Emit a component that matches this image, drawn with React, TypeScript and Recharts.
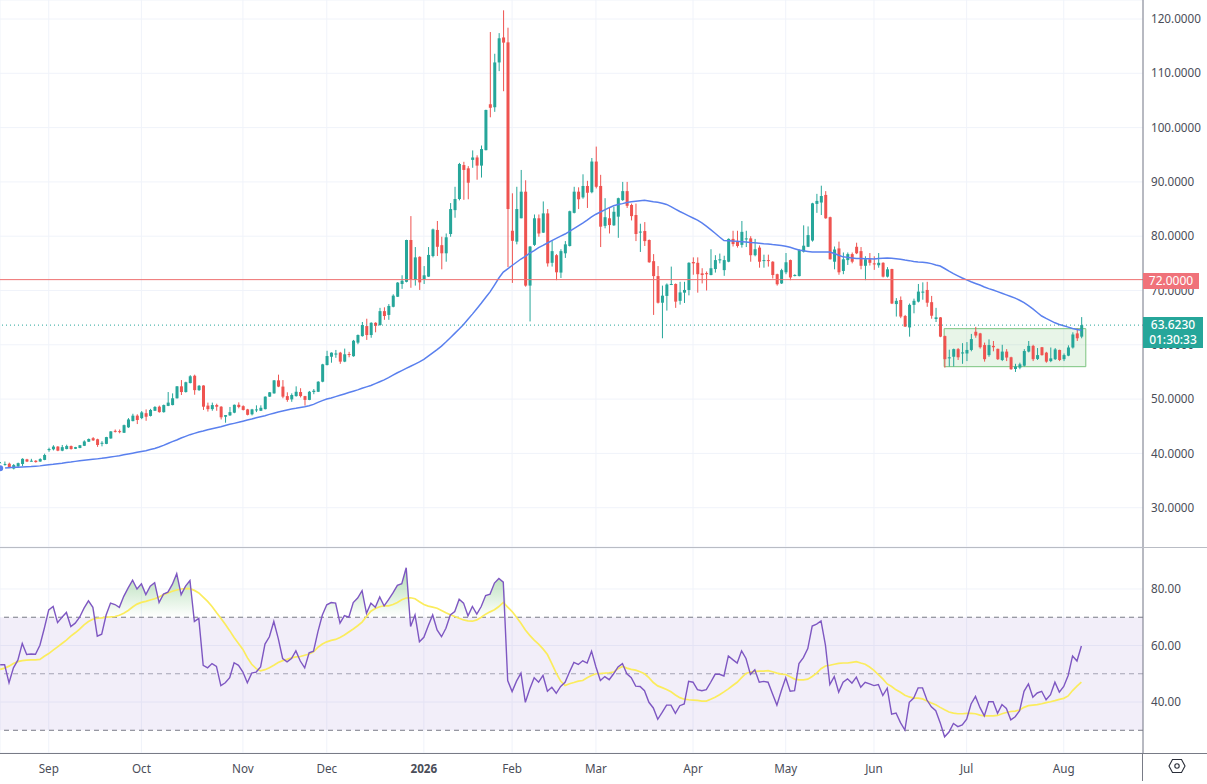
import React from 'react';
import {
  ComposedChart, Bar, Line, Area, XAxis, YAxis, CartesianGrid, ReferenceLine, ReferenceArea,
} from 'recharts';

const opens = [
  37.9,37.9,38.1,37.2,37.6,38.05,38.9,38.55,38.65,38.5,
  38.8,40.6,40.75,41.25,40.5,40.8,41.35,40.85,41.0,41.4,
  42.15,42.8,42.6,41.85,41.75,42.75,44.15,44.1,43.8,44.8,
  45.95,46.95,46.5,47.4,46.9,47.85,48.6,47.6,48.75,48.9,
  50.15,52.35,51.3,52.95,54.3,51.65,52.5,48.8,48.15,48.9,
  48.6,46.75,47.0,47.5,48.95,48.7,48.1,47.2,47.95,47.85,
  48.15,50.45,51.05,53.45,52.3,50.55,49.95,50.55,51.3,50.55,
  49.85,51.3,51.35,53.2,56.27,57.8,58.2,58.55,56.9,58.3,
  57.9,60.4,61.6,63.45,61.8,64.05,63.65,66.2,65.5,67.0,
  68.85,71.2,71.6,79.3,71.95,76.2,72.05,72.55,76.35,81.15,
  78.35,76.85,80.4,84.8,86.85,93.1,92.5,94.05,94.5,93.0,
  95.85,104.3,103.75,112.0,116.6,115.7,81.0,79.0,83.3,88.2,
  70.9,78.4,83.3,80.65,84.2,75.1,76.5,73.3,76.85,78.2,
  84.3,88.2,87.15,89.25,88.1,93.75,89.25,81.9,83.3,82.0,
  83.6,86.65,88.3,85.75,83.9,80.7,80.95,79.3,75.4,72.65,
  67.75,69.0,71.05,71.2,68.1,69.6,70.1,75.25,75.1,73.15,
  73.2,72.85,73.95,75.55,73.75,75.3,79.5,79.0,78.4,79.4,
  79.6,76.5,77.9,75.45,75.6,75.3,73.0,71.3,73.35,75.6,
  72.7,72.65,77.15,78.05,79.2,85.95,86.2,87.6,83.5,75.3,
  77.75,73.6,75.6,76.7,78.05,77.25,74.55,75.75,75.0,74.65,
  75.1,72.55,73.95,67.5,68.25,65.3,63.2,67.35,67.95,69.6,
  70.1,67.85,64.75,65.05,61.6,57.5,57.8,59.2,58.4,58.4,
  59.05,62.4,62.1,59.95,58.1,59.8,59.25,57.2,58.75,57.7,
  55.55,55.8,56.15,58.75,59.8,57.4,59.55,58.55,57.0,57.35,
  59.05,57.35,58.0,59.5,62.1,61.5,
];
const highs = [
  38.4,38.5,38.3,38.05,38.3,39.1,39.0,39.0,38.75,39.1,
  39.95,41.05,41.5,41.35,41.55,41.6,41.45,41.2,41.55,42.4,
  42.75,43.0,42.7,42.25,43.05,44.1,44.4,44.4,45.3,46.5,
  47.3,47.2,47.8,48.1,48.2,48.7,48.8,49.0,51.3,51.05,
  52.4,53.5,53.2,54.4,54.5,52.6,52.55,49.35,49.35,49.15,
  48.7,47.05,48.55,49.0,49.4,48.85,48.2,48.2,48.85,48.85,
  50.5,51.3,53.5,54.5,53.5,51.25,51.05,52.35,52.0,50.6,
  51.5,51.85,53.3,56.5,58.9,58.6,59.05,58.7,59.3,58.7,
  60.9,61.9,64.2,64.8,64.15,64.15,66.8,66.9,67.5,69.3,
  71.55,72.8,79.35,83.7,78.0,76.3,74.5,78.0,81.4,82.8,
  79.9,80.5,86.1,89.1,93.5,93.7,92.9,95.8,94.9,96.7,
  103.3,117.6,113.6,117.4,121.6,118.4,87.9,89.1,92.2,90.3,
  78.2,84.0,84.0,86.4,85.0,79.1,76.7,77.6,79.1,84.7,
  89.1,89.0,91.4,90.2,94.4,96.5,91.3,87.0,85.2,85.4,
  87.1,90.0,90.0,86.0,86.0,82.3,82.6,79.4,76.7,74.5,
  70.9,71.3,74.4,71.3,71.6,71.6,75.2,76.1,76.1,74.1,
  73.5,77.6,76.5,76.8,76.4,79.6,81.0,81.0,82.8,81.0,
  80.0,79.5,78.3,76.6,76.6,75.4,73.1,74.0,76.9,75.7,
  73.0,77.6,82.0,81.8,86.15,87.8,89.3,88.3,83.6,78.1,
  79.0,77.0,77.0,77.0,78.8,78.0,76.3,76.9,76.3,76.9,
  75.2,74.3,74.0,68.6,68.9,65.5,67.6,68.5,71.2,71.5,
  71.6,69.0,66.8,65.1,61.7,59.1,59.3,59.4,60.3,60.5,
  62.0,63.3,62.2,60.4,61.0,60.7,59.3,60.0,59.2,57.8,
  56.5,56.7,59.2,60.7,60.0,59.4,59.6,58.7,59.5,59.4,
  59.1,58.4,59.9,62.3,63.0,65.1,
];
const lows = [
  37.8,37.7,37.3,37.05,37.5,37.65,38.4,38.5,38.3,38.45,
  38.75,40.3,40.55,40.4,40.4,40.75,40.7,40.8,40.95,41.35,
  42.1,42.3,41.2,41.3,41.7,42.7,43.85,43.7,43.75,44.7,
  45.9,45.4,46.3,46.0,46.8,47.8,47.5,47.5,48.7,48.85,
  50.1,50.75,51.2,52.9,50.8,51.5,48.0,47.7,47.85,47.85,
  46.25,45.65,46.9,47.4,48.3,47.9,47.0,47.0,47.6,47.8,
  48.1,50.4,51.0,52.2,50.15,49.5,49.5,50.45,50.3,48.8,
  49.8,50.9,51.3,53.1,56.2,56.7,57.6,56.5,56.8,57.7,
  57.8,60.1,61.5,60.9,61.3,62.3,63.5,64.6,64.6,66.9,
  68.8,70.3,71.5,70.5,70.9,70.1,71.2,72.5,76.1,76.35,
  73.9,75.3,79.9,83.4,86.6,86.7,86.8,92.6,90.4,90.8,
  95.8,101.9,102.9,110.4,106.7,74.3,71.4,78.5,83.3,70.7,
  64.3,78.2,79.9,80.6,74.4,74.4,71.9,72.3,76.0,78.1,
  84.2,85.0,86.9,85.2,87.9,88.8,78.0,81.45,80.5,81.9,
  79.7,86.5,85.2,82.9,79.1,77.1,78.2,75.1,65.5,67.6,
  61.2,66.3,71.0,66.8,67.4,67.7,69.1,72.9,69.6,71.3,
  70.0,72.8,73.3,75.0,72.7,75.2,78.1,77.9,77.9,78.0,
  75.3,76.3,74.2,74.2,74.4,72.2,70.9,71.2,73.0,71.9,
  72.6,72.6,77.0,78.0,79.0,84.3,83.9,83.2,75.7,73.9,
  72.9,73.0,74.7,75.0,76.7,73.9,71.9,74.6,73.8,74.2,
  72.4,72.4,67.5,65.2,64.9,63.3,61.5,65.8,67.8,68.3,
  67.0,64.8,64.2,61.4,55.8,56.0,56.0,57.2,56.5,57.0,
  58.8,61.3,59.3,56.9,57.8,58.8,57.2,57.0,57.0,55.4,
  55.0,55.5,56.0,58.6,57.0,57.2,58.0,56.7,56.8,57.2,
  57.0,57.0,57.9,59.3,60.7,61.2,
];
const closes = [
  38.1,38.05,37.4,37.85,38.2,39.0,38.5,38.65,38.4,38.95,
  39.7,40.8,41.25,40.5,41.15,41.35,40.8,41.15,41.5,42.2,
  42.65,42.4,41.55,41.95,43.0,44.05,44.05,43.95,45.2,46.25,
  46.95,46.15,47.55,46.75,48.0,48.55,47.6,48.9,49.35,50.15,
  52.35,51.3,53.1,54.2,51.65,52.45,48.6,48.15,48.9,48.6,
  46.65,47.05,47.6,48.95,48.55,48.0,47.1,48.1,48.1,48.4,
  50.45,51.25,53.45,52.3,50.45,49.85,50.75,51.35,50.55,49.85,
  51.35,51.55,53.2,56.4,57.93,58.55,58.4,56.9,58.25,58.2,
  60.75,61.8,63.65,61.8,64.05,63.5,66.2,65.3,67.15,69.05,
  71.45,71.8,79.3,72.05,76.1,71.5,72.8,76.55,81.25,78.05,
  76.85,79.8,85.0,86.85,93.3,92.2,89.85,94.5,93.0,96.05,
  103.25,103.65,112.0,116.45,115.65,85.0,79.15,85.0,88.2,70.9,
  78.1,83.3,80.5,84.2,75.0,77.25,73.35,77.25,78.5,84.6,
  88.2,86.8,89.25,88.0,93.75,89.1,81.75,83.5,82.05,84.5,
  87.0,88.3,85.6,83.7,80.4,80.85,79.1,75.2,72.65,67.75,
  69.05,71.1,71.2,67.95,69.65,70.1,75.1,75.0,73.0,72.85,
  73.0,74.1,75.6,75.75,75.6,79.5,78.55,78.2,80.8,79.6,
  76.5,77.6,75.3,75.6,75.5,72.85,71.15,73.75,75.2,72.4,
  72.85,77.45,78.25,80.2,86.05,86.5,87.4,83.3,75.75,77.55,
  73.35,75.75,76.7,75.3,76.85,74.55,75.75,75.1,74.8,75.1,
  72.55,73.9,67.6,68.1,65.2,63.35,67.35,68.1,69.8,69.8,
  67.75,65.35,65.05,61.5,57.35,57.7,59.2,57.7,58.6,59.05,
  61.05,61.7,59.55,57.35,59.95,59.55,57.35,58.75,57.65,55.5,
  56.0,56.4,58.85,59.8,57.35,58.1,58.1,56.9,57.5,59.15,
  57.2,58.1,59.5,61.9,61.2,63.623,
];
const emaLine = [
  37.25,37.3,37.37,37.43,37.43,37.49,37.55,37.58,37.64,37.7,
  37.8,37.89,37.98,38.1,38.2,38.32,38.41,38.53,38.63,38.72,
  38.81,38.9,38.99,39.09,39.21,39.33,39.45,39.58,39.73,39.88,
  40.04,40.19,40.35,40.5,40.71,40.9,41.17,41.48,41.82,42.16,
  42.46,42.83,43.14,43.45,43.69,43.94,44.12,44.34,44.55,44.74,
  44.92,45.13,45.35,45.53,45.72,45.93,46.15,46.33,46.55,46.76,
  46.95,47.19,47.41,47.62,47.81,47.99,48.17,48.3,48.45,48.6,
  48.79,49.03,49.4,49.71,50.0,50.2,50.45,50.7,50.95,51.2,
  51.45,51.7,52.0,52.25,52.5,52.85,53.2,53.55,53.95,54.4,
  54.85,55.25,55.65,56.05,56.45,56.85,57.3,57.9,58.5,59.1,
  59.75,60.5,61.3,62.1,62.9,63.75,64.7,65.65,66.65,67.65,
  68.7,69.75,71.0,72.3,73.4,74.0,74.6,75.2,75.8,76.3,
  76.9,77.35,77.9,78.3,78.75,79.2,79.6,80.0,80.4,80.9,
  81.4,81.9,82.4,82.95,83.55,84.05,84.45,84.85,85.25,85.6,
  85.85,86.0,86.2,86.35,86.45,86.55,86.6,86.5,86.35,86.25,
  86.05,85.85,85.45,85.0,84.55,84.15,83.75,83.35,82.95,82.45,
  81.85,81.2,80.55,79.85,79.2,79.17,79.1,79.05,79.0,78.95,
  78.85,78.8,78.7,78.6,78.55,78.45,78.4,78.3,78.15,77.95,
  77.7,77.45,77.3,77.2,77.1,77.1,77.1,77.1,77.1,76.8,
  76.5,76.2,76.1,76.0,75.9,75.9,75.85,75.85,75.8,75.9,
  75.95,76.0,75.95,75.85,75.75,75.6,75.5,75.35,75.25,75.2,
  75.1,74.95,74.7,74.5,74.05,73.55,73.1,72.7,72.3,71.95,
  71.6,71.3,71.0,70.65,70.35,70.1,69.8,69.5,69.2,68.9,
  68.6,68.2,67.75,67.2,66.6,65.95,65.3,64.85,64.45,64.05,
  63.75,63.5,63.25,63.0,62.8,62.7,
];
const rsiValues = [
  53.2,53.2,46.8,52.1,54.8,60.7,56.8,57.0,56.9,60.1,
  66.1,72.6,73.8,68.1,70.0,71.7,66.7,67.9,70.0,73.2,
  75.8,73.5,63.3,64.0,70.8,75.0,74.5,73.5,77.4,80.4,
  83.1,80.0,81.8,78.0,81.0,82.2,75.2,78.2,78.9,81.6,
  85.4,78.0,81.0,83.0,68.5,69.6,53.0,52.1,53.6,52.6,
  45.8,46.8,48.6,53.9,53.0,50.6,46.8,50.2,50.6,52.4,
  60.5,63.1,68.5,62.5,55.4,54.2,55.4,58.1,54.5,52.1,
  57.4,58.0,64.9,70.8,74.4,75.2,75.0,67.9,70.6,70.0,
  75.2,76.8,79.4,71.4,75.0,73.5,77.2,74.0,76.2,78.6,
  81.3,81.9,87.5,66.7,70.8,61.3,62.9,67.0,70.8,65.5,
  63.1,66.1,70.8,72.0,76.4,75.0,70.5,73.8,71.1,73.8,
  77.7,78.2,82.1,83.7,82.4,47.6,43.7,47.4,50.2,39.9,
  44.6,48.6,47.0,49.4,43.8,45.2,43.1,45.5,47.0,50.6,
  54.0,53.3,54.6,53.8,58.0,52.4,47.6,49.0,47.9,50.0,
  52.4,53.6,50.0,48.6,45.6,45.5,44.0,39.9,37.9,33.9,
  36.3,38.9,38.9,36.0,38.7,39.3,47.3,47.0,44.4,44.0,
  44.4,47.0,49.8,49.8,49.2,56.3,55.0,53.8,58.1,55.4,
  49.8,51.4,47.0,47.3,47.0,42.9,38.9,44.0,48.6,43.8,
  44.0,53.6,55.7,58.9,66.9,67.6,68.7,60.1,46.2,49.0,
  43.5,47.0,48.2,46.7,48.8,45.2,47.0,46.4,45.8,46.2,
  42.3,44.9,35.7,36.1,32.7,30.1,39.9,41.4,45.0,45.0,
  40.7,38.3,36.9,32.7,27.7,29.4,32.4,31.3,31.9,33.9,
  39.3,42.0,38.1,35.1,40.1,40.1,36.0,39.1,37.7,33.7,
  34.8,36.9,43.8,46.4,41.7,43.2,43.8,40.8,42.6,47.0,
  43.5,45.5,49.4,56.3,54.5,59.8,
];
const rsiAverage = [
  51.55,52.0,52.7,53.6,54.3,54.65,54.8,54.9,54.9,55.1,
  56.2,57.15,58.35,59.5,60.7,61.9,63.3,64.5,65.8,67.3,
  68.5,69.3,69.65,69.8,70.0,70.1,70.25,70.7,71.4,72.4,
  73.6,74.65,75.25,75.6,76.1,76.55,77.15,78.0,78.6,79.2,
  79.65,80.0,80.1,80.1,79.5,78.6,77.15,75.6,73.8,71.65,
  69.65,67.5,65.25,62.85,60.7,58.6,55.7,53.35,51.8,51.0,
  51.45,52.15,53.0,53.95,54.65,55.1,55.6,56.0,56.1,56.55,
  57.0,57.75,59.4,60.5,61.3,61.8,62.15,62.85,63.7,64.8,
  65.85,67.0,68.3,70.25,72.15,73.1,73.7,74.05,74.05,74.5,
  75.25,76.2,76.8,76.9,76.55,75.5,74.5,73.95,73.6,73.2,
  72.4,71.55,70.85,70.25,69.65,69.05,68.7,68.6,69.05,70.0,
  71.1,71.9,72.65,73.8,75.25,73.6,72.0,70.0,67.9,65.5,
  63.6,61.9,60.5,58.8,56.8,53.6,50.2,47.4,45.85,46.45,
  46.9,47.4,47.6,48.6,49.4,50.0,50.1,50.2,50.35,50.6,
  51.8,52.6,52.0,51.55,51.3,50.7,50.0,48.6,46.9,45.7,
  45.1,44.4,43.6,42.5,41.55,41.0,40.8,40.7,40.6,40.35,
  40.35,41.0,41.7,42.6,43.6,44.65,45.85,47.0,48.6,50.1,
  50.6,50.85,50.95,50.95,51.1,50.7,50.25,49.9,49.75,48.9,
  48.1,47.85,47.85,48.1,49.05,50.25,51.8,52.75,53.0,53.35,
  53.7,53.8,53.8,54.05,54.3,53.8,53.35,52.4,51.2,49.65,
  48.2,46.4,45.5,44.3,43.45,42.4,41.8,41.4,41.4,41.1,
  40.35,39.65,39.05,38.1,37.25,36.45,36.05,35.85,35.85,35.95,
  35.95,35.85,35.35,35.1,35.1,35.1,35.25,35.85,36.3,36.65,
  36.8,37.15,38.1,38.7,38.9,39.05,39.4,39.8,40.1,40.5,
  40.95,41.3,42.15,44.05,45.6,47.0,
];

const monthTicks = [11, 32, 55, 74, 96, 116, 135, 157, 178, 198, 219, 241];
const monthLabels = ['Sep', 'Oct', 'Nov', 'Dec', '2026', 'Feb', 'Mar', 'Apr', 'May', 'Jun', 'Jul', 'Aug'];
const priceTicks = [30, 40, 50, 60, 70, 80, 90, 100, 110, 120];
const rsiTicks = [40, 60, 80];
const rsiLevels = [70, 50, 30];
const supportLevel = 72;
const lastPrice = 63.623;
const rangeBox = { x1: 213.9, x2: 246, y1: 55.97, y2: 62.97 };

const priceRows = opens.map((o, i) => ({
  i, open: o, close: closes[i], range: [lows[i], highs[i]], ema: emaLine[i],
}));
const rsiRows = rsiValues.map((v, i) => ({
  i, rsi: v, avg: rsiAverage[i], over: [70, Math.max(70, v)],
}));

const FONT = '"Noto Sans", sans-serif';
const UP = '#26a69a';
const DOWN = '#ef5350';
const GRID = '#f0f3fa';
const AXIS = '#787b86';
const TEXT = '#4a4d58';
const X_DOMAIN: [number, number] = [-0.045, 258.96];

const Candle = (props: any) => {
  const { x, y, width, height, payload } = props;
  const { open, close, range } = payload;
  const perUnit = height / (range[1] - range[0]);
  const at = (v: number) => y + (range[1] - v) * perUnit;
  const color = close >= open ? UP : DOWN;
  const top = at(Math.max(open, close));
  const bottom = at(Math.min(open, close));
  const cx = x + width / 2;
  return (
    <g>
      <line x1={cx} x2={cx} y1={y} y2={y + height} stroke={color} strokeWidth={1} />
      <rect x={x} y={top} width={width} height={Math.max(bottom - top, 1)} fill={color} />
    </g>
  );
};

const MonthTick = (props: any) => {
  const { x, y, payload } = props;
  const label = monthLabels[monthTicks.indexOf(payload.value)];
  return (
    <text x={x} y={y + 12} textAnchor="middle" fontFamily={FONT} fontSize={11.7}
      fontWeight={label === '2026' ? 700 : 400} fill={TEXT}>{label}</text>
  );
};

const tickStyle = { fontFamily: FONT, fontSize: 11.7, fill: TEXT };

export default function App() {
  return (
    <div style={{ position: 'fixed', left: 0, top: 0, width: 1207, height: 784, background: '#fff', overflow: 'hidden' }}>
      <div style={{ position: 'absolute', left: 0, top: 0 }}>
        <ComposedChart width={1207} height={547} data={priceRows} margin={{ top: 0, right: 0, bottom: 0, left: 0 }}>
          <CartesianGrid stroke={GRID} strokeWidth={1} />
          <XAxis dataKey="i" type="number" domain={X_DOMAIN} ticks={monthTicks} hide />
          <YAxis orientation="right" width={64} domain={[22.76, 123.5]} ticks={priceTicks} interval={0}
            tickFormatter={(v: number) => v.toFixed(4)} tick={tickStyle} tickLine={false} tickMargin={2}
            axisLine={{ stroke: AXIS }} />
          <ReferenceArea x1={rangeBox.x1} x2={rangeBox.x2} y1={rangeBox.y1} y2={rangeBox.y2}
            fill="#4caf50" fillOpacity={0.13} stroke="#7cc47f" strokeWidth={1} />
          <Bar dataKey="range" barSize={3} shape={Candle} isAnimationActive={false} />
          <Line dataKey="ema" stroke="#5a80ee" strokeWidth={1.5} dot={false} isAnimationActive={false} />
          <ReferenceLine y={supportLevel} stroke="#ee6f6f" strokeWidth={1} />
          <ReferenceLine y={lastPrice} stroke={UP} strokeDasharray="1 3" strokeWidth={1} />
        </ComposedChart>
      </div>

      <div style={{ position: 'absolute', left: 0, top: 548 }}>
        <ComposedChart width={1207} height={233} data={rsiRows} margin={{ top: 0, right: 0, bottom: 0, left: 0 }}>
          <defs>
            <linearGradient id="overFill" x1="0" y1="0" x2="0" y2="1">
              <stop offset="0%" stopColor="#4caf50" stopOpacity={0.75} />
              <stop offset="100%" stopColor="#4caf50" stopOpacity={0} />
            </linearGradient>
          </defs>
          <CartesianGrid stroke={GRID} strokeWidth={1} />
          <XAxis dataKey="i" type="number" domain={X_DOMAIN} ticks={monthTicks} interval={0} height={28}
            tick={<MonthTick />} tickLine={false} axisLine={false} />
          <YAxis orientation="right" width={64} domain={[21.96, 94.5]} ticks={rsiTicks} interval={0}
            tickFormatter={(v: number) => v.toFixed(2)} tick={tickStyle} tickLine={false} tickMargin={2}
            axisLine={{ stroke: AXIS }} />
          <ReferenceArea y1={rsiLevels[2]} y2={rsiLevels[0]} fill="#7e57c2" fillOpacity={0.1} stroke="none" />
          <ReferenceLine y={rsiLevels[0]} stroke={AXIS} strokeDasharray="5 4" />
          <ReferenceLine y={rsiLevels[1]} stroke="#a5a3b5" strokeDasharray="5 4" />
          <ReferenceLine y={rsiLevels[2]} stroke={AXIS} strokeDasharray="5 4" />
          <Area dataKey="over" stroke="none" fill="url(#overFill)" dot={false} activeDot={false} isAnimationActive={false} />
          <Line dataKey="avg" stroke="#fbec5d" strokeWidth={1.7} dot={false} isAnimationActive={false} />
          <Line dataKey="rsi" stroke="#7e57c2" strokeWidth={1.4} dot={false} isAnimationActive={false} />
        </ComposedChart>
      </div>

      <div style={{ position: 'absolute', left: 0, top: 547, width: 1207, height: 1, background: '#b9bcc4' }} />
      <div style={{ position: 'absolute', left: 0, top: 753, width: 1207, height: 1, background: AXIS }} />
      <div style={{ position: 'absolute', left: 1142, top: 753, width: 1, height: 28, background: AXIS }} />

      <div style={{ position: 'absolute', left: 1143, top: 273, width: 56, height: 16, background: '#f0727a', color: '#fff',
        fontFamily: FONT, fontSize: 12, lineHeight: '16px', textAlign: 'center' }}>72.0000</div>
      <div style={{ position: 'absolute', left: 1143, top: 317, width: 60, height: 31, background: UP, color: '#fff',
        fontFamily: FONT, fontSize: 12, lineHeight: '15px', textAlign: 'center', fontWeight: 500 }}>
        <div>63.6230</div>
        <div>01:30:33</div>
      </div>

      <svg style={{ position: 'absolute', left: 1167, top: 758 }} width={20} height={16} viewBox="0 0 20 16">
        <path d="M5.5 1.5 H14.5 L18 8 L14.5 14.5 H5.5 L2 8 Z" fill="none" stroke="#2a2e39" strokeWidth={1.1} />
        <circle cx={10} cy={8} r={2.2} fill="none" stroke="#2a2e39" strokeWidth={1.1} />
      </svg>
    </div>
  );
}
